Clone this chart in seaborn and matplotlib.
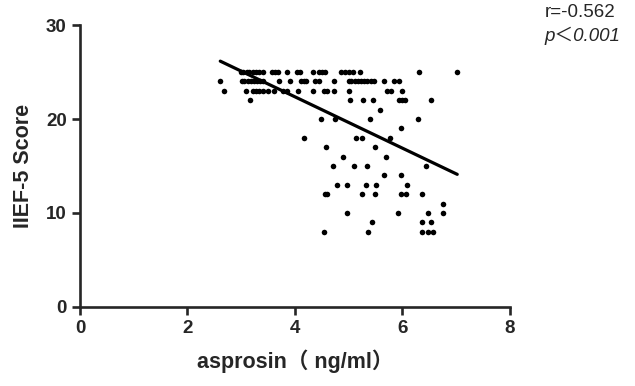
import matplotlib
matplotlib.use('Agg')
import matplotlib.pyplot as plt
import numpy as np
import pandas as pd
import seaborn as sns

# asprosin (ng/ml) values grouped by IIEF-5 score
rows = {
    25: [2.99, 3.04, 3.10, 3.15, 3.21, 3.28, 3.34, 3.40, 3.57, 3.63, 3.69, 3.86, 4.03, 4.09,
         4.34, 4.45, 4.51, 4.56, 4.86, 4.93, 5.00, 5.08, 5.21, 6.31, 7.02],
    24: [2.61, 3.01, 3.06, 3.12, 3.18, 3.23, 3.29, 3.35, 3.40, 3.71, 3.90, 4.11, 4.16, 4.20,
         4.37, 4.45, 4.73, 5.00, 5.05, 5.11, 5.17, 5.23, 5.29, 5.34, 5.42, 5.48, 5.65, 5.84, 5.93],
    23: [2.68, 3.08, 3.21, 3.28, 3.34, 3.40, 3.50, 3.61, 3.78, 3.86, 4.05, 4.33, 4.54, 4.60,
         4.73, 5.00, 5.72, 5.78, 5.99],
    22: [3.16, 5.02, 5.27, 5.46, 5.93, 5.99, 6.04, 6.53],
    21: [5.59],
    20: [4.48, 4.75, 5.40, 6.29],
    19: [5.97],
    18: [4.16, 5.14, 5.25, 5.76],
    17: [4.58, 5.49],
    16: [4.89, 5.70],
    15: [4.70, 5.10, 5.34, 6.44],
    14: [5.65, 5.97],
    13: [4.79, 4.96, 5.32, 5.51, 6.08],
    12: [4.56, 4.60, 5.24, 5.49, 5.97, 6.06, 6.37],
    11: [6.76],
    10: [4.96, 5.91, 6.48, 6.76],
    9: [5.44, 6.37, 6.53],
    8: [4.54, 5.36, 6.37, 6.48, 6.57],
}
asprosin = [x for score, xs in rows.items() for x in xs]
iief5 = [score for score, xs in rows.items() for x in xs]
df = pd.DataFrame({'asprosin': asprosin, 'IIEF-5': iief5})

sns.set_style('ticks')
plt.rcParams['font.family'] = ['Liberation Sans', 'Noto Sans CJK SC', 'DejaVu Sans']

fig = plt.figure(figsize=(6.35, 3.86), dpi=100)
ax = fig.add_axes([0.126, 0.205, 0.677, 0.73])

sns.regplot(data=df, x='asprosin', y='IIEF-5', ci=None, ax=ax,
            scatter_kws={'s': 16, 'color': 'black', 'linewidths': 0, 'alpha': 1},
            line_kws={'color': 'black', 'lw': 2.3})

ax.set_xlim(0, 8)
ax.set_ylim(0, 30)
ax.set_xticks([0, 2, 4, 6, 8])
ax.set_yticks([0, 10, 20, 30])
sns.despine(ax=ax)
for s in ['left', 'bottom']:
    ax.spines[s].set_linewidth(1.9)
ax.tick_params(width=1.9, length=5.5, labelsize=13.5, direction='out', pad=4)
for lab in ax.get_xticklabels() + ax.get_yticklabels():
    lab.set_fontweight('bold')

ax.set_xlabel('asprosin（ ng/ml）', fontsize=15.5, fontweight='bold', labelpad=9)
ax.set_ylabel('IIEF-5 Score', fontsize=15.5, fontweight='bold', labelpad=9)

fig.text(0.858, 0.967, 'r=-0.562', fontsize=13.5, ha='left', va='center')
fig.text(0.858, 0.907, 'p＜0.001', fontsize=13.5, style='italic', ha='left', va='center')

fig.savefig('out.png', dpi=100)
